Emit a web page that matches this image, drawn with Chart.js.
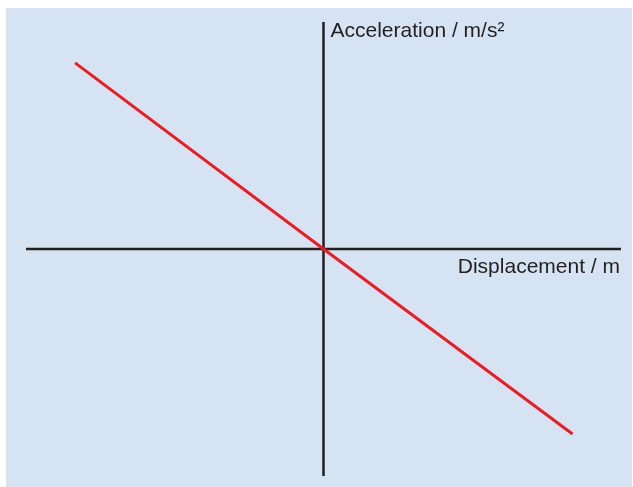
<!DOCTYPE html>
<html lang="en">
<head>
    <meta charset="UTF-8">
    <title>Acceleration vs Displacement</title>
    <script src="https://cdn.jsdelivr.net/npm/chart.js"></script>
    <style>
        body { margin: 0; background: #ffffff; }
        #wrap { width: 633px; height: 487px; }
    </style>
</head>
<body>
    <div id="wrap"><canvas id="shmChart" width="633" height="487"></canvas></div>

    <script>
        // Data (arbitrary units, axes have no ticks)
        const displacement = [-8.35, 0, 8.37];
        const acceleration = [8.2, 0, -8.15];
        const xLabel = 'Displacement / m';
        const yLabel = 'Acceleration / m/s²';

        // Blue panel behind everything
        const panelPlugin = {
            id: 'panel',
            beforeDraw(chart) {
                const ctx = chart.ctx;
                ctx.save();
                ctx.fillStyle = '#d5e3f3';
                ctx.fillRect(6, 8, chart.width - 7, chart.height - 8);
                ctx.restore();
            }
        };

        // Axes through the origin plus their labels
        const axesPlugin = {
            id: 'originAxes',
            beforeDatasetsDraw(chart) {
                const ctx = chart.ctx;
                const xs = chart.scales.x, ys = chart.scales.y;
                const x0 = xs.getPixelForValue(0);
                const y0 = ys.getPixelForValue(0);
                ctx.save();
                ctx.strokeStyle = '#231f20';
                ctx.lineWidth = 2.5;
                ctx.beginPath();
                ctx.moveTo(xs.left, y0);
                ctx.lineTo(xs.right, y0);
                ctx.moveTo(x0, ys.top);
                ctx.lineTo(x0, ys.bottom);
                ctx.stroke();

                ctx.fillStyle = '#231f20';
                ctx.font = '21px "Liberation Sans", Arial, sans-serif';
                ctx.textBaseline = 'alphabetic';
                ctx.textAlign = 'left';
                ctx.fillText(yLabel, x0 + 7, ys.top + 15);
                ctx.textAlign = 'right';
                ctx.fillText(xLabel, xs.right - 1, y0 + 24);
                ctx.restore();
            }
        };

        const ctx = document.getElementById('shmChart').getContext('2d');
        new Chart(ctx, {
            type: 'scatter',
            data: {
                datasets: [{
                    data: displacement.map((d, i) => ({ x: d, y: acceleration[i] })),
                    showLine: true,
                    borderColor: '#ec1c24',
                    borderWidth: 3,
                    pointRadius: 0,
                    fill: false
                }]
            },
            options: {
                responsive: false,
                animation: false,
                layout: { padding: { left: 26, top: 22, right: 12, bottom: 11 } },
                plugins: { legend: { display: false }, tooltip: { enabled: false } },
                scales: {
                    x: { display: false, min: -10, max: 10 },
                    y: { display: false, min: -10, max: 10 }
                }
            },
            plugins: [panelPlugin, axesPlugin]
        });
    </script>
</body>
</html>
